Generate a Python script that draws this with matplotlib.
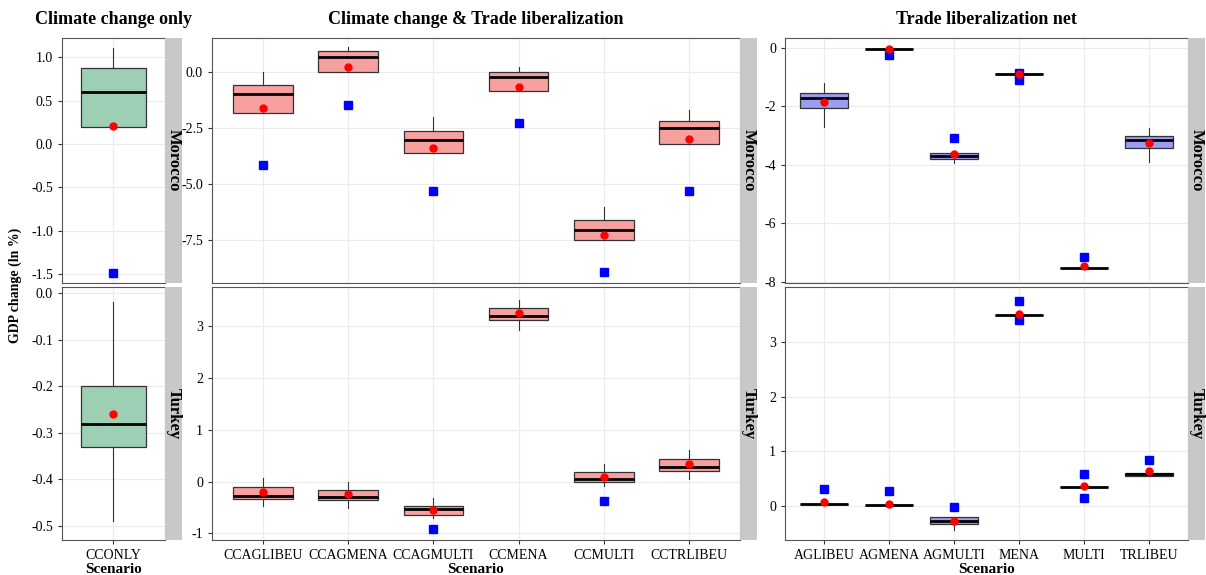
import matplotlib
matplotlib.use("Agg")
import matplotlib.pyplot as plt

plt.rcParams['font.family'] = ['Liberation Serif', 'DejaVu Serif']

# stats: (whislo, q1, med, q3, whishi, mean)
p1_cats = ["CCONLY"]
p1_mor = [(0.2, 0.2, 0.6, 0.88, 1.1, 0.21)]
p1_mor_blue = [[-1.48]]
p1_tur = [(-0.49, -0.33, -0.28, -0.2, -0.02, -0.26)]
p1_tur_blue = [[]]

p2_cats = ["CCAGLIBEU", "CCAGMENA", "CCAGMULTI", "CCMENA", "CCMULTI", "CCTRLIBEU"]
p2_mor = [(-1.85, -1.85, -1.0, -0.6, 0.0, -1.6),
          (0.0, 0.0, 0.65, 0.9, 1.1, 0.2),
          (-3.6, -3.6, -3.05, -2.65, -2.0, -3.4),
          (-0.85, -0.85, -0.25, 0.0, 0.2, -0.7),
          (-7.5, -7.5, -7.05, -6.6, -6.0, -7.25),
          (-3.2, -3.2, -2.5, -2.2, -1.7, -3.0)]
p2_mor_blue = [[-4.15], [-1.5], [-5.3], [-2.3], [-8.9], [-5.3]]
p2_tur = [(-0.47, -0.34, -0.27, -0.1, 0.06, -0.21),
          (-0.52, -0.35, -0.29, -0.16, 0.0, -0.25),
          (-0.71, -0.65, -0.53, -0.47, -0.31, -0.55),
          (2.92, 3.13, 3.2, 3.36, 3.5, 3.25),
          (-0.08, 0.0, 0.05, 0.18, 0.34, 0.08),
          (0.05, 0.2, 0.28, 0.44, 0.6, 0.34)]
p2_tur_blue = [[], [], [-0.92], [], [-0.37], []]

p3_cats = ["AGLIBEU", "AGMENA", "AGMULTI", "MENA", "MULTI", "TRLIBEU"]
p3_mor = [(-2.72, -2.05, -1.7, -1.56, -1.2, -1.84),
          (-0.05, -0.05, -0.05, -0.05, -0.05, -0.05),
          (-3.93, -3.8, -3.7, -3.6, -3.6, -3.62),
          (-0.9, -0.9, -0.9, -0.9, -0.9, -0.9),
          (-7.55, -7.55, -7.55, -7.55, -7.55, -7.48),
          (-3.9, -3.43, -3.15, -3.0, -2.75, -3.25)]
p3_mor_blue = [[], [-0.25], [-3.1], [-0.85, -1.1], [-7.15], []]
p3_tur = [(0.04, 0.04, 0.04, 0.04, 0.04, 0.07),
          (0.01, 0.01, 0.01, 0.01, 0.01, 0.03),
          (-0.45, -0.34, -0.28, -0.21, -0.21, -0.28),
          (3.5, 3.5, 3.5, 3.5, 3.5, 3.53),
          (0.35, 0.35, 0.35, 0.35, 0.35, 0.36),
          (0.54, 0.54, 0.58, 0.61, 0.61, 0.63)]
p3_tur_blue = [[0.31], [0.27], [-0.03], [3.77, 3.42], [0.58, 0.14], [0.84]]

W, H = 1206, 575
fig = plt.figure(figsize=(W / 100, H / 100), dpi=100)

def fr(x0, x1, y0, y1):
    return [x0 / W, 1 - y1 / H, (x1 - x0) / W, (y1 - y0) / H]

cols = [
    (62, 165, p1_cats, p1_mor, p1_mor_blue, p1_tur, p1_tur_blue, "#9ccfb3",
     (-1.6, 1.22), [-1.5, -1.0, -0.5, 0.0, 0.5, 1.0], "{:.1f}",
     (-0.53, 0.013), [-0.5, -0.4, -0.3, -0.2, -0.1, 0.0], "{:.1f}", 0.75, "Climate change only"),
    (212, 740, p2_cats, p2_mor, p2_mor_blue, p2_tur, p2_tur_blue, "#f7a0a0",
     (-9.4, 1.5), [-7.5, -5.0, -2.5, 0.0], "{:.1f}",
     (-1.13, 3.76), [-1, 0, 1, 2, 3], "{:d}", 0.7, "Climate change & Trade liberalization"),
    (785, 1188, p3_cats, p3_mor, p3_mor_blue, p3_tur, p3_tur_blue, "#9c9cf0",
     (-8.05, 0.34), [-8, -6, -4, -2, 0], "{:d}",
     (-0.63, 4.02), [0, 1, 2, 3], "{:d}", 0.75, "Trade liberalization net"),
]
rows = [(38, 283, "Morocco"), (287, 540, "Turkey")]

for (x0, x1, cats, mor, morb, tur, turb, color, yl1, yt1, f1, yl2, yt2, f2, bw, title) in cols:
    for ri, (y0, y1, country) in enumerate(rows):
        ax = fig.add_axes(fr(x0, x1, y0, y1))
        data = mor if ri == 0 else tur
        blues = morb if ri == 0 else turb
        ylim = yl1 if ri == 0 else yl2
        yt = yt1 if ri == 0 else yt2
        fmt = f1 if ri == 0 else f2
        pos = list(range(1, len(cats) + 1))
        stats = [dict(whislo=s[0], q1=s[1], med=s[2], q3=s[3], whishi=s[4],
                      mean=s[5], fliers=[]) for s in data]
        ax.bxp(stats, positions=pos, widths=bw, patch_artist=True, showcaps=False,
               showmeans=True, meanline=False,
               boxprops=dict(facecolor=color, edgecolor="#333333", linewidth=0.9),
               medianprops=dict(color="black", linewidth=2),
               whiskerprops=dict(color="#333333", linewidth=0.8),
               meanprops=dict(marker="o", markerfacecolor="red", markeredgecolor="red", markersize=5))
        for p, b in zip(pos, blues):
            if b:
                ax.plot([p] * len(b), b, "s", color="blue", markersize=6, zorder=1)
        ax.set_xlim(0.4, len(cats) + 0.6)
        ax.set_ylim(*ylim)
        ax.set_yticks(yt)
        ax.set_yticklabels([fmt.format(v) for v in yt], fontsize=10)
        ax.grid(True, color="#ebebeb", linewidth=0.8)
        ax.set_axisbelow(True)
        ax.tick_params(axis="both", length=3, color="#333333")
        for s in ax.spines.values():
            s.set_color("#555555")
        ax.set_xticks(pos)
        if ri == 1:
            ax.set_xticklabels(cats, fontsize=10)
            ax.set_xlabel("Scenario", fontsize=11, fontweight="bold", labelpad=1)
        else:
            ax.set_xticklabels([])
            ax.tick_params(axis="x", length=0)
            ax.set_title(title, fontsize=13, fontweight="bold", pad=10)
        sax = fig.add_axes(fr(x1, x1 + 17, y0, y1))
        sax.set_facecolor("#c8c8c8")
        sax.set_xticks([]); sax.set_yticks([])
        for s in sax.spines.values():
            s.set_visible(False)
        sax.text(0.5, 0.5, country, rotation=-90, ha="center", va="center",
                 fontsize=12, fontweight="bold", transform=sax.transAxes)

fig.text(15 / W, 1 - 285 / H, "GDP change (ln %)", rotation=90, ha="center", va="center",
         fontsize=10, fontweight="bold")
fig.savefig("out.png", dpi=100)
